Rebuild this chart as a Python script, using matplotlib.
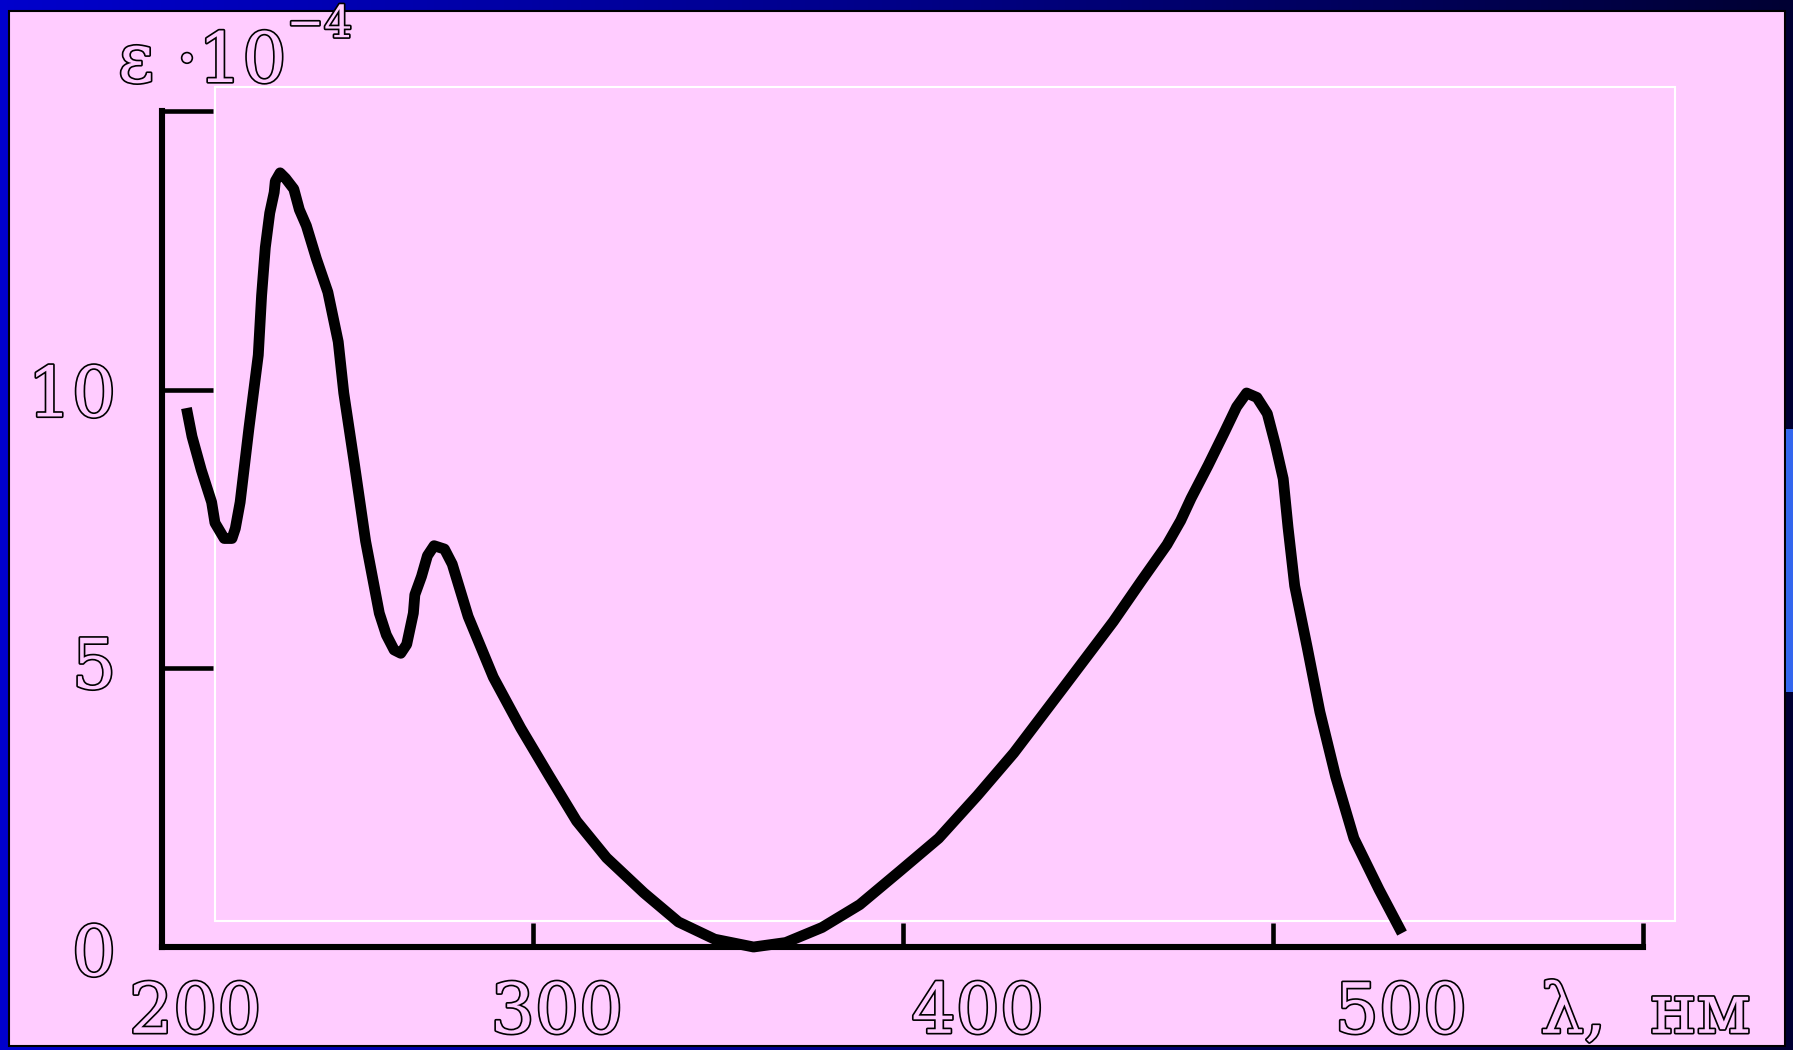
import numpy as np
import matplotlib
matplotlib.use("Agg")
import matplotlib.pyplot as plt
from matplotlib.patches import Rectangle
from matplotlib.colors import LinearSegmentedColormap
import matplotlib.patheffects as pe

# ---- data ----
wavelength = [206.5, 208.0, 210.5, 213.3, 214.2, 216.7, 218.8, 219.7, 221.0, 223.4,
              225.9, 226.8, 227.8, 229.0, 230.2, 230.5, 231.8, 233.3, 235.5, 237.0,
              238.9, 241.6, 244.7, 247.5, 249.0, 251.8, 254.9, 258.6, 260.5, 262.6,
              264.4, 266.0, 267.8, 268.2, 270.0, 271.6, 273.4, 276.2, 278.3, 282.6,
              289.4, 296.8, 304.5, 311.9, 320.0, 330.1, 339.4, 349.2, 359.7, 368.4,
              378.2, 388.4, 399.2, 409.7, 420.2, 430.0, 443.6, 456.9, 464.6, 471.4,
              475.1, 477.9, 482.5, 486.8, 490.2, 492.9, 495.7, 498.5, 500.7, 502.8,
              504.1, 505.9, 509.3, 512.7, 517.0, 521.9, 528.7, 534.9]
epsilon = [9.67, 9.16, 8.56, 7.98, 7.61, 7.33, 7.33, 7.51, 7.98, 9.32,
           10.62, 11.69, 12.55, 13.17, 13.54, 13.74, 13.89, 13.79, 13.60, 13.23,
           12.94, 12.35, 11.75, 10.86, 9.94, 8.70, 7.28, 5.99, 5.60, 5.33,
           5.27, 5.43, 5.99, 6.32, 6.65, 7.02, 7.20, 7.14, 6.87, 5.93,
           4.84, 3.93, 3.07, 2.26, 1.60, 0.97, 0.45, 0.14, 0.00, 0.08,
           0.35, 0.76, 1.36, 1.95, 2.72, 3.48, 4.67, 5.84, 6.58, 7.22,
           7.65, 8.05, 8.64, 9.22, 9.69, 9.94, 9.86, 9.57, 9.01, 8.40,
           7.53, 6.48, 5.37, 4.22, 3.05, 1.95, 1.03, 0.25]
x_tick_values = [300, 400, 500, 600]
y_tick_values = [5, 10, 15]
x_label_texts = ["200", "300", "400", "500"]
y_label_texts = ["0", "5", "10"]
x_axis_title = "λ,  нм"
y_axis_title = "ε ·10"
y_axis_power = "−4"

# ---- style ----
PINK = "#FFCCFF"
W, H, DPI = 1793, 1050, 100
fig = plt.figure(figsize=(W / DPI, H / DPI), dpi=DPI)

# background gradient (slide frame)
bg = fig.add_axes([0, 0, 1, 1], zorder=-5)
grad = np.linspace(0, 1, 256)[None, :]
cmap = LinearSegmentedColormap.from_list("frame", ["#0000CC", "#000088", "#000033"])
bg.imshow(grad, aspect="auto", cmap=cmap, extent=[0, 1, 0, 1])
bg.set_axis_off()

# pink slide area
fig.patches.append(Rectangle((9 / W, 1 - 1046 / H), (1785 - 9) / W, (1046 - 11) / H,
                             transform=fig.transFigure, facecolor=PINK,
                             edgecolor="black", linewidth=1.5, zorder=-2))
# blue bar at right edge
fig.patches.append(Rectangle((1786 / W, 1 - 692 / H), 7 / W, (692 - 429) / H,
                             transform=fig.transFigure, facecolor="#3366EE",
                             edgecolor="none", zorder=-1.5))
# thin white frame
fig.patches.append(Rectangle((215 / W, 1 - 921 / H), (1675 - 215) / W, (921 - 87) / H,
                             transform=fig.transFigure, facecolor="none",
                             edgecolor="white", linewidth=1.5, zorder=-1))

# main axes
x0, x1 = 162.4 / W, 1643 / W
y0, y1 = 1 - 947 / H, 1 - 111 / H
ax = fig.add_axes([x0, y0, x1 - x0, y1 - y0], zorder=0)
ax.set_facecolor("none")
ax.set_xlim(200, 600)
ax.set_ylim(0, 15)

ax.plot(wavelength, epsilon, color="black", linewidth=7.8,
        solid_joinstyle="round", solid_capstyle="butt", clip_on=False, zorder=3)

for s in ["top", "right"]:
    ax.spines[s].set_visible(False)
for s in ["left", "bottom"]:
    ax.spines[s].set_linewidth(4.4)
    ax.spines[s].set_color("black")
    ax.spines[s].set_capstyle("projecting")

ax.set_xticks(x_tick_values)
ax.set_yticks(y_tick_values)
ax.tick_params(axis="x", direction="in", length=17, width=3.3, color="black",
               labelbottom=False)
ax.tick_params(axis="y", direction="in", length=37, width=3.3, color="black",
               labelleft=False)

txt_kw = dict(family="DejaVu Serif", color=PINK, fontsize=50,
              path_effects=[pe.withStroke(linewidth=2.4, foreground="black")],
              clip_on=False)

x_label_pos = [208.9, 306.6, 420.3, 534.6]
for lab, xp in zip(x_label_texts, x_label_pos):
    ax.text(xp, -1.54, lab, ha="center", va="baseline", **txt_kw)

y_label_pos = [-0.51, 4.64, 9.52]
for lab, yp in zip(y_label_texts, y_label_pos):
    ax.text(187.5, yp, lab, ha="right", va="baseline", **txt_kw)

ax.text(572.2, -1.54, x_axis_title, ha="left", va="baseline", **txt_kw)

t = ax.text(188.0, 15.52, y_axis_title, ha="left", va="baseline", **txt_kw)
sup_kw = dict(txt_kw)
sup_kw["fontsize"] = 32
ax.annotate(y_axis_power, xy=(1.0, 0.75), xycoords=t, ha="left", va="bottom",
            annotation_clip=False, **sup_kw)

fig.savefig("out.png", dpi=DPI, facecolor="#0000CC")
